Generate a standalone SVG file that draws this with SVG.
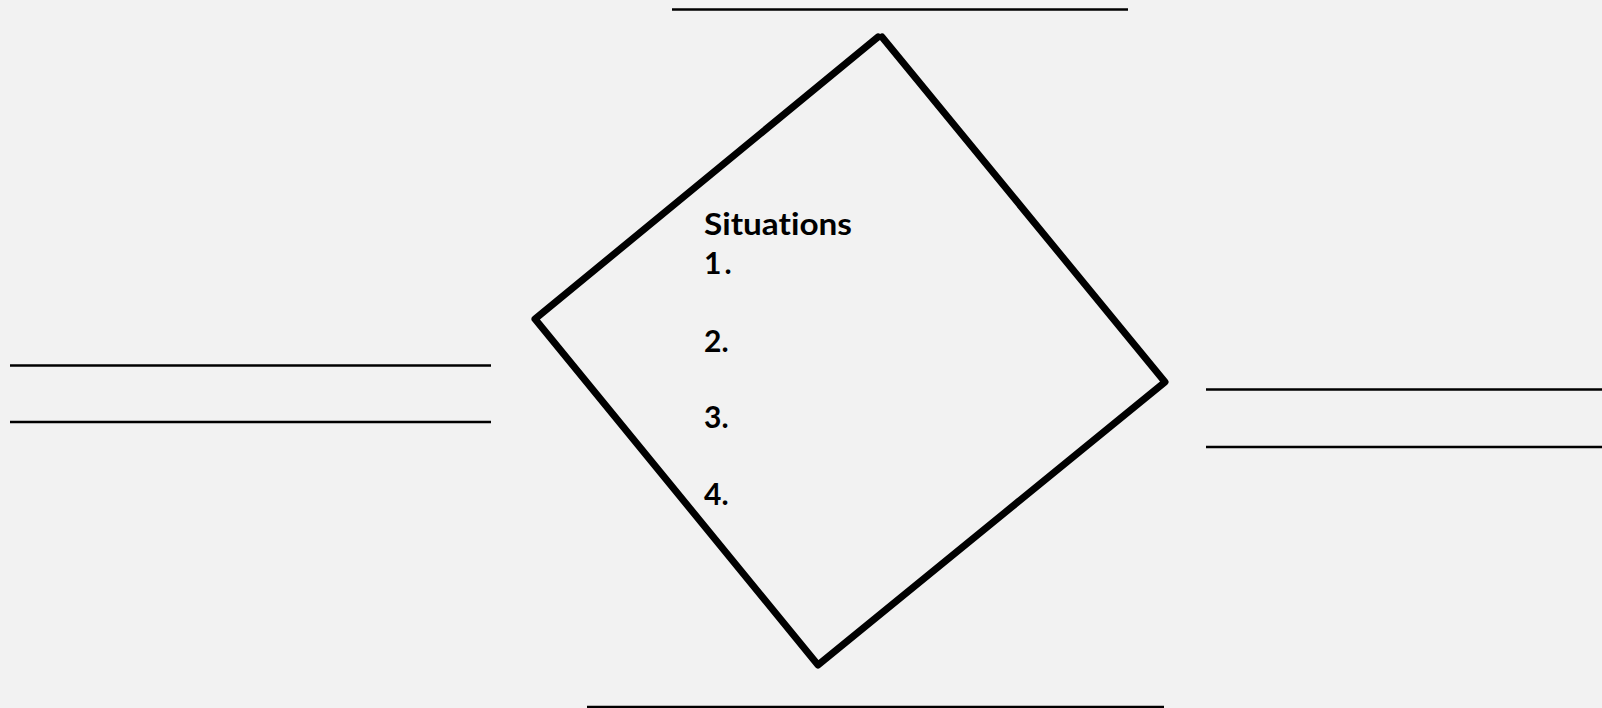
<svg xmlns="http://www.w3.org/2000/svg" width="1602" height="708" viewBox="0 0 1602 708">
<style>
.bg{fill:#f2f2f2}
.rule{stroke:#000;stroke-width:2.6;fill:none}
.shape{fill:none;stroke:#000;stroke-width:7;stroke-linejoin:round;stroke-linecap:round}
.t{font-family:"Lato","Liberation Sans",sans-serif;font-weight:bold;font-size:30px;fill:#000;font-variant-ligatures:none}
</style>
<rect class="bg" x="0" y="0" width="1602" height="708"/>
<g id="blank-lines">
<line class="rule" x1="672" y1="9.5" x2="1128" y2="9.5"/>
<line class="rule" x1="10" y1="365.5" x2="491" y2="365.5"/>
<line class="rule" x1="10" y1="422" x2="491" y2="422"/>
<line class="rule" x1="1206" y1="389.5" x2="1602" y2="389.5"/>
<line class="rule" x1="1206" y1="447" x2="1602" y2="447"/>
<line class="rule" x1="587" y1="707" x2="1164" y2="707"/>
</g>
<g id="situations-diamond">
<path class="shape" d="M 882 37 L 1165 382 L 818 665 L 535 319 L 878 37"/>
<text class="t" x="704" y="235" textLength="148" lengthAdjust="spacingAndGlyphs">Situations</text>
<text class="t" x="704" y="274" letter-spacing="3">1.</text>
<text class="t" x="704" y="352">2.</text>
<text class="t" x="704" y="428">3.</text>
<text class="t" x="704" y="505">4.</text>
</g>
</svg>
